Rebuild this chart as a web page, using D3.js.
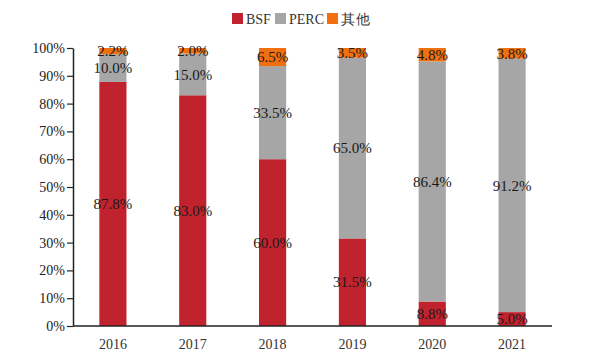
<!DOCTYPE html>
<html><head><meta charset="utf-8">
<script src="https://cdn.jsdelivr.net/npm/d3@7/dist/d3.min.js"></script>
<style>body{margin:0;background:#fff;}text{font-family:"Liberation Serif","Times New Roman",serif;}</style>
</head><body><svg id="c" width="597" height="360"></svg>
<script>
const years = ["2016","2017","2018","2019","2020","2021"];
const seriesNames = ["BSF","PERC","其他"];
const bsf = [87.8, 83.0, 60.0, 31.5, 8.8, 5.0];
const perc = [10.0, 15.0, 33.5, 65.0, 86.4, 91.2];
const other = [2.2, 2.0, 6.5, 3.5, 4.8, 3.8];
const yTicks = [0,10,20,30,40,50,60,70,80,90,100];
const colors = ["#C1232E","#A6A6A6","#F0700F"];

const svg = d3.select("#c");
const m = {l:73, r:45, t:48, b:34};
const W = 597, H = 360;
const x = d3.scaleBand().domain(years).range([m.l, W-m.r]).paddingInner(0.66).paddingOuter(0.33);
const y = d3.scaleLinear().domain([0,100]).range([H-m.b, m.t]);

const rows = years.map((yr,i)=>({year:yr, BSF:bsf[i], PERC:perc[i], "其他":other[i]}));
const stack = d3.stack().keys(seriesNames)(rows);

const g = svg.append("g");
stack.forEach((s,si)=>{
  g.selectAll(null).data(s).enter().append("rect")
    .attr("x", d=>x(d.data.year)).attr("width", x.bandwidth())
    .attr("y", d=>y(d[1])).attr("height", d=>y(d[0])-y(d[1]))
    .attr("fill", colors[si]);
});
stack.forEach((s,si)=>{
  g.selectAll(null).data(s).enter().append("text")
    .attr("x", d=>x(d.data.year)+x.bandwidth()/2)
    .attr("y", d=>y((d[0]+d[1])/2))
    .attr("dy","0.35em").attr("text-anchor","middle")
    .attr("font-size",15).attr("fill","#1a1a1a")
    .text(d=>(d[1]-d[0]).toFixed(1)+"%");
});

// y axis
const ya = svg.append("g").attr("transform",`translate(${m.l},0)`)
  .call(d3.axisLeft(y).tickValues(yTicks).tickFormat(d=>d+"%").tickSize(6).tickSizeOuter(0));
ya.select(".domain").attr("stroke","#222").attr("stroke-width",1.5);
ya.selectAll(".tick line").attr("stroke","#222").attr("stroke-width",1.2);
ya.selectAll(".tick text").attr("font-size",14).attr("fill","#222").attr("font-family","Liberation Serif, serif").attr("x",-8);

// x axis
const xa = svg.append("g").attr("transform",`translate(0,${H-m.b})`)
  .call(d3.axisBottom(x).tickSize(0).tickSizeOuter(0));
xa.select(".domain").attr("stroke","#222").attr("stroke-width",1.5).attr("d",`M${m.l},0H${W-m.r}`);
xa.selectAll(".tick text").attr("font-size",14).attr("fill","#333").attr("font-family","Liberation Serif, serif").attr("dy","1.45em");

// legend
const leg = svg.append("g");
const legX = [232, 275, 327];
seriesNames.forEach((n,i)=>{
  leg.append("rect").attr("x",legX[i]).attr("y",13).attr("width",11).attr("height",11).attr("fill",colors[i]);
  leg.append("text").attr("x",legX[i]+14).attr("y",23.5).attr("font-size",14).attr("fill","#333")
    .attr("font-family", i===2 ? "Noto Sans CJK SC, serif" : "Liberation Serif, serif")
    .attr("letter-spacing", i===2 ? 1 : 0).text(n);
});
</script></body></html>
